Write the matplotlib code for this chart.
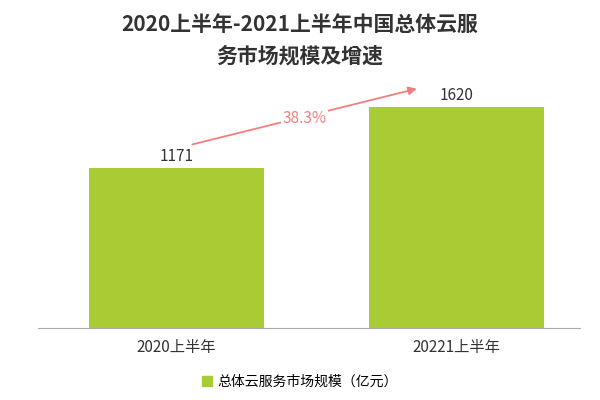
import matplotlib
matplotlib.use("Agg")
import matplotlib.pyplot as plt
from matplotlib.patches import Patch
from matplotlib import font_manager as fm

cjk_files = [f for f in fm.findSystemFonts() if "CJK" in f or "cjk" in f.lower()]
for f in cjk_files:
    try:
        fm.fontManager.addfont(f)
    except Exception:
        pass
names = sorted({fm.FontProperties(fname=f).get_name() for f in cjk_files})
pref = [n for n in names if "SC" in n] + names
plt.rcParams["font.family"] = "sans-serif"
plt.rcParams["font.sans-serif"] = pref + ["Noto Sans CJK SC", "DejaVu Sans"]

categories = ["2020上半年", "20221上半年"]
values = [1171, 1620]
growth_label = "38.3%"
series_name = "总体云服务市场规模（亿元）"
title = "2020上半年-2021上半年中国总体云服\n务市场规模及增速"

green = "#a9cc35"
fig = plt.figure(figsize=(6, 4), dpi=100)
ax = fig.add_axes([0.063, 0.18, 0.903, 0.62])
x = list(range(len(categories)))
ax.bar(x, values, width=0.625, color=green)
for xi, v in zip(x, values):
    ax.text(xi, v + 25, str(v), ha="center", va="bottom", fontsize=11, color="#333333")
ax.set_xlim(-0.496, 1.44)
ax.set_ylim(0, 1818)
ax.set_xticks(x)
ax.set_xticklabels(categories, fontsize=11, color="#333333")
ax.tick_params(axis="x", length=0, pad=8)
ax.set_yticks([])
for s in ["top", "right", "left"]:
    ax.spines[s].set_visible(False)
ax.spines["bottom"].set_color("#aaaaaa")

ax.annotate("", xy=(0.868, 1759), xytext=(0.047, 1341),
            arrowprops=dict(arrowstyle="-|>", color="#f08080", lw=1.3, mutation_scale=12))
ax.text(0.458, 1539, growth_label, ha="center", va="center", fontsize=11, color="#f08080",
        bbox=dict(facecolor="white", edgecolor="none", pad=1))

fig.text(0.5, 0.965, title, ha="center", va="top", fontsize=15, fontweight="bold",
         color="#333333", linespacing=1.6)
fig.legend(handles=[Patch(color=green)], labels=[series_name], loc="center",
           bbox_to_anchor=(0.5, 0.045), frameon=False, fontsize=10, handlelength=0.7,
           handleheight=0.7, handletextpad=0.4)
fig.savefig("out.png", dpi=100)
